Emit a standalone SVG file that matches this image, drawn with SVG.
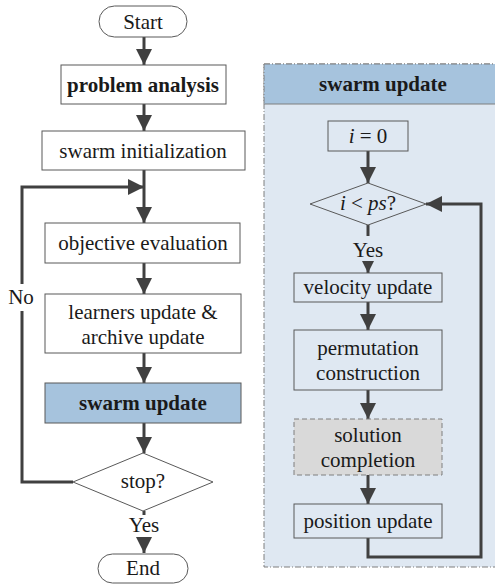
<svg xmlns="http://www.w3.org/2000/svg" width="495" height="587" viewBox="0 0 495 587">
<defs>
<style>
text{font-family:"Liberation Serif","Times New Roman",serif;fill:#1a1a1a;text-anchor:middle;dominant-baseline:central}
.t{font-size:21px}
.b{font-weight:bold}
.box{fill:#fff;stroke:#595959;stroke-width:1}
.pbox{fill:#dfe8f2;stroke:#595959;stroke-width:1}
.hl{fill:#a6c3dd;stroke:#595959;stroke-width:1}
.con{fill:none;stroke:#404040;stroke-width:3}
</style>
<marker id="ah" viewBox="0 0 16 16" refX="16" refY="8" markerWidth="16" markerHeight="16" markerUnits="userSpaceOnUse" orient="auto"><path d="M0,0 L16,8 L0,16 Z" fill="#404040"/></marker>
<marker id="ahs" viewBox="0 0 12 12" refX="12" refY="6" markerWidth="12" markerHeight="12" markerUnits="userSpaceOnUse" orient="auto"><path d="M0,0 L12,6 L0,12 Z" fill="#404040"/></marker>
</defs>
<g id="panel">
<rect x="264" y="64" width="240" height="503" fill="#dfe8f2" stroke="#7f7f7f" stroke-width="1" stroke-dasharray="6,2,1,2"/>
<rect x="264" y="64" width="240" height="40" fill="#a6c3dd" stroke="none"/>
<line x1="264" y1="104" x2="495" y2="104" stroke="#7f7f7f" stroke-width="1"/>
<line x1="264" y1="64" x2="495" y2="64" stroke="#7f7f7f" stroke-width="1" stroke-dasharray="6,2,1,2"/>
<line x1="264" y1="64" x2="264" y2="104" stroke="#7f7f7f" stroke-width="1" stroke-dasharray="6,2,1,2"/>
<text class="t b" x="383" y="84">swarm update</text>
</g>
<g id="connectors">
<line class="con" x1="144" y1="37" x2="144" y2="65" marker-end="url(#ah)"/>
<line class="con" x1="144" y1="104" x2="144" y2="131" marker-end="url(#ah)"/>
<line class="con" x1="144" y1="170" x2="144" y2="223" marker-end="url(#ah)"/>
<line class="con" x1="144" y1="263" x2="144" y2="294" marker-end="url(#ah)"/>
<line class="con" x1="144" y1="353" x2="144" y2="383" marker-end="url(#ah)"/>
<line class="con" x1="144" y1="423" x2="144" y2="453" marker-end="url(#ah)"/>
<polyline class="con" points="73,482 22,482 22,311"/>
<polyline class="con" points="22,284 22,187 144,187" marker-end="url(#ah)"/>
<line class="con" x1="144" y1="511" x2="144" y2="515"/>
<line class="con" x1="144" y1="538" x2="144" y2="553" marker-end="url(#ah)"/>
<line class="con" x1="368" y1="151" x2="368" y2="183" marker-end="url(#ah)"/>
<line class="con" x1="368" y1="225" x2="368" y2="236"/>
<line class="con" x1="368" y1="261" x2="368" y2="273" marker-end="url(#ahs)"/>
<line class="con" x1="368" y1="302" x2="368" y2="330" marker-end="url(#ah)"/>
<line class="con" x1="368" y1="390" x2="368" y2="419" marker-end="url(#ah)"/>
<line class="con" x1="368" y1="475" x2="368" y2="504" marker-end="url(#ah)"/>
<polyline class="con" points="368,538 368,557 481,557 481,204 426,204" marker-end="url(#ah)"/>
<text class="t" x="21" y="297">No</text>
<text class="t" x="144" y="525">Yes</text>
<text class="t" x="368" y="250">Yes</text>
</g>
<g id="start">
<rect class="box" x="99" y="6" width="88" height="31" rx="15.5"/>
<text class="t" x="143" y="22">Start</text>
</g>
<g id="problem-analysis">
<rect class="box" x="61" y="65" width="165" height="39"/>
<text class="t b" x="143" y="85">problem analysis</text>
</g>
<g id="swarm-init">
<rect class="box" x="42" y="131" width="203" height="39"/>
<text class="t" x="143" y="151">swarm initialization</text>
</g>
<g id="objective-eval">
<rect class="box" x="45" y="223" width="195" height="40"/>
<text class="t" x="143" y="243">objective evaluation</text>
</g>
<g id="learners-update">
<rect class="box" x="45" y="294" width="196" height="59"/>
<text class="t" x="143" y="312">learners update &amp;</text>
<text class="t" x="143" y="337">archive update</text>
</g>
<g id="swarm-update">
<rect class="hl" x="45" y="383" width="196" height="40"/>
<text class="t b" x="143" y="403">swarm update</text>
</g>
<g id="stop">
<polygon class="box" points="143,453 213,482 143,511 73,482"/>
<text class="t" x="143" y="481">stop?</text>
</g>
<g id="end">
<rect class="box" x="98" y="554" width="90" height="29" rx="14.5"/>
<text class="t" x="143" y="568">End</text>
</g>
<g id="i0">
<rect class="pbox" x="328" y="121" width="80" height="30"/>
<text class="t" x="368" y="136"><tspan font-style="italic">i</tspan> = 0</text>
</g>
<g id="ilt">
<polygon class="pbox" points="368,183 426,204 368,225 310,204"/>
<text class="t" x="368" y="203"><tspan font-style="italic">i</tspan> &lt; <tspan font-style="italic">ps</tspan>?</text>
</g>
<g id="velocity">
<rect class="pbox" x="294" y="273" width="148" height="29"/>
<text class="t" x="368" y="287">velocity update</text>
</g>
<g id="permutation">
<rect class="pbox" x="294" y="330" width="148" height="60"/>
<text class="t" x="368" y="348">permutation</text>
<text class="t" x="368" y="373">construction</text>
</g>
<g id="completion">
<rect x="294" y="419" width="148" height="56" fill="#d9d9d9" stroke="#7f7f7f" stroke-width="1" stroke-dasharray="5,3"/>
<text class="t" x="368" y="435">solution</text>
<text class="t" x="368" y="460">completion</text>
</g>
<g id="position">
<rect class="pbox" x="294" y="504" width="148" height="34"/>
<text class="t" x="368" y="521">position update</text>
</g>
</svg>
